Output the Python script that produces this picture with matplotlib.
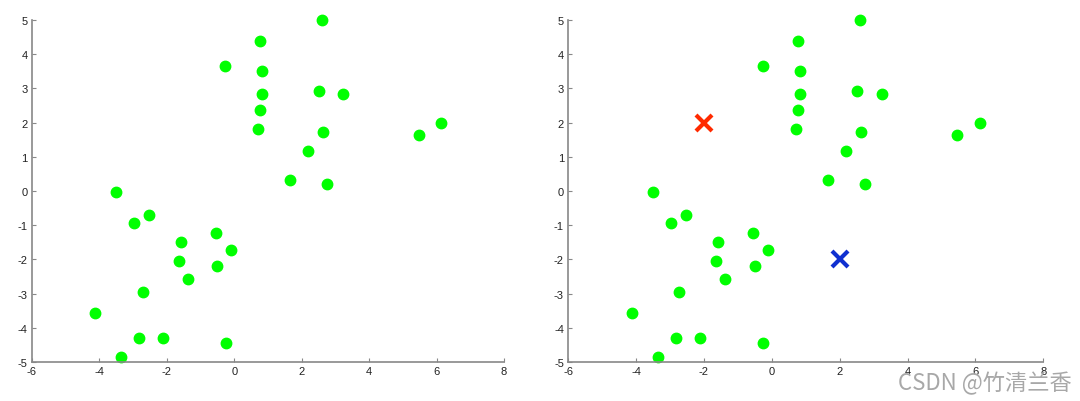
import matplotlib
matplotlib.use('Agg')
import matplotlib.pyplot as plt

# Datos
x_datos = [2.6, 0.77, -0.27, 0.82, 2.52, 3.24, 0.82, 0.77, 0.71, 2.63, 5.47, 6.13, 2.2, 1.66, 2.75,
           -3.5, -2.97, -2.52, -1.58, -0.54, -0.1, -1.64, -0.5, -1.37, -2.72, -4.12, -2.82, -2.1, -0.25, -3.36]
y_datos = [5.0, 4.37, 3.66, 3.5, 2.93, 2.82, 2.82, 2.38, 1.8, 1.72, 1.64, 1.99, 1.17, 0.33, 0.21,
           -0.02, -0.94, -0.69, -1.49, -1.24, -1.73, -2.05, -2.2, -2.57, -2.95, -3.57, -4.31, -4.31, -4.45, -4.84]

# Centroides iniciales
centro_rojo = (-2, 2)
centro_azul = (2, -2)

xticks = [-6, -4, -2, 0, 2, 4, 6, 8]
yticks = [-5, -4, -3, -2, -1, 0, 1, 2, 3, 4, 5]

plt.rcParams['font.family'] = ['Liberation Sans', 'DejaVu Sans']
plt.rcParams['axes.unicode_minus'] = False

fig = plt.figure(figsize=(10.8, 4.02), dpi=100)
ax1 = fig.add_axes([0.0296, 0.097, 0.437, 0.851])
ax2 = fig.add_axes([0.526, 0.097, 0.440, 0.851])


def estilo(ax):
    ax.set_xlim(-6, 8)
    ax.set_ylim(-5, 5)
    ax.set_xticks(xticks)
    ax.set_yticks(yticks)
    ax.spines['top'].set_visible(False)
    ax.spines['right'].set_visible(False)
    for s in ('left', 'bottom'):
        ax.spines[s].set_color('#888888')
        ax.spines[s].set_linewidth(1.2)
    ax.tick_params(direction='in', length=3, color='#888888', labelsize=8,
                   labelcolor='#222222', pad=3)


for ax in (ax1, ax2):
    ax.plot(x_datos, y_datos, 'o', color='#00ff00', markersize=7.5, clip_on=False)
    estilo(ax)

ax2.plot(*centro_rojo, 'x', color='#ff2a00', markersize=12, mew=3)
ax2.plot(*centro_azul, 'x', color='#1030d0', markersize=12, mew=3)

fig.text(0.992, 0.045, 'CSDN @竹清兰香', ha='right', va='center', fontsize=16,
         color='#a8a8a8', family=['Noto Sans CJK SC', 'DejaVu Sans'])

plt.savefig('out.png', dpi=100)
